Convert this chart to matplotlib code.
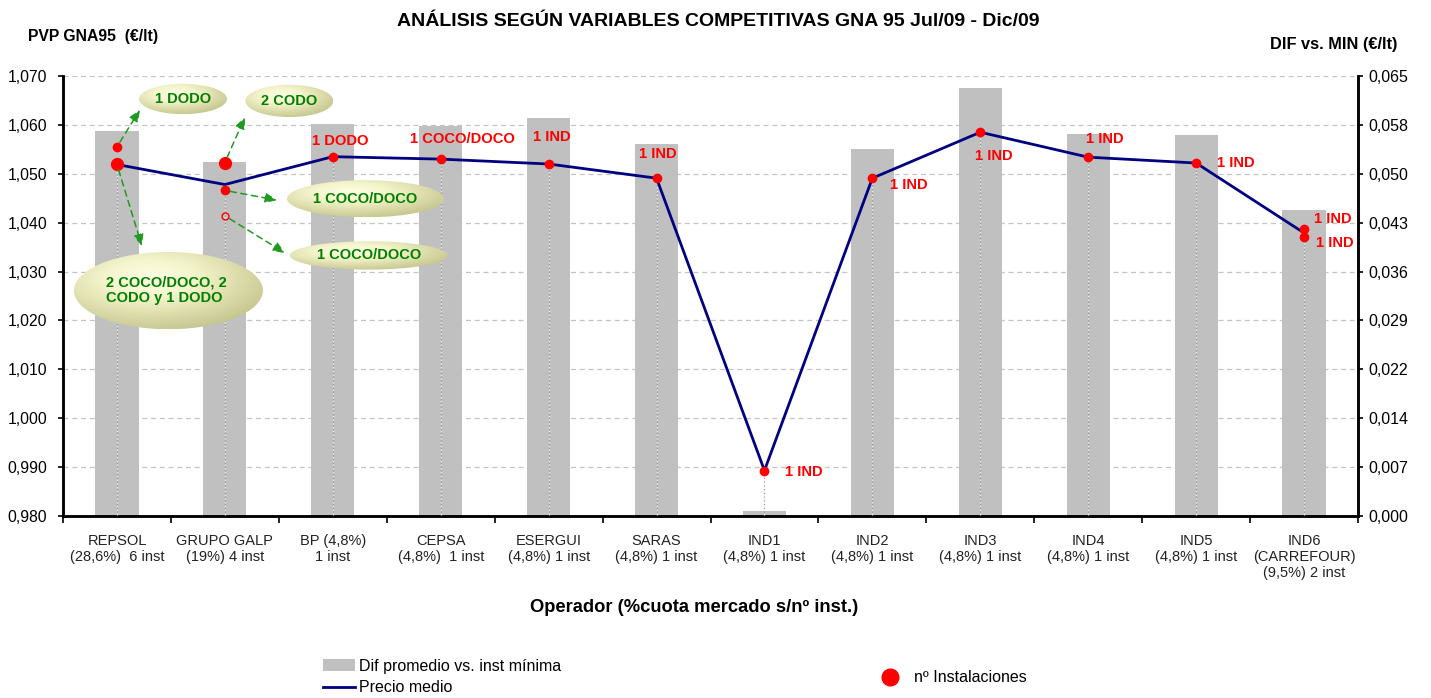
import matplotlib
matplotlib.use("Agg")
import matplotlib.pyplot as plt
import numpy as np
from matplotlib.patches import Ellipse, Patch
from matplotlib.lines import Line2D
from matplotlib.colors import LinearSegmentedColormap

plt.rcParams['font.family'] = ['Liberation Sans', 'DejaVu Sans']

# ---- data ----
operadores = ["REPSOL\n(28,6%)  6 inst", "GRUPO GALP\n(19%) 4 inst", "BP (4,8%)\n1 inst",
              "CEPSA\n(4,8%)  1 inst", "ESERGUI\n(4,8%) 1 inst", "SARAS\n(4,8%) 1 inst",
              "IND1\n(4,8%) 1 inst", "IND2\n(4,8%) 1 inst", "IND3\n(4,8%) 1 inst",
              "IND4\n(4,8%) 1 inst", "IND5\n(4,8%) 1 inst", "IND6\n(CARREFOUR)\n(9,5%) 2 inst"]
dif_min = [0.0567, 0.0521, 0.0577, 0.0574, 0.0586, 0.0548, 0.0008, 0.0541, 0.0631, 0.0562, 0.0561, 0.0450]
precio_medio = [1.0519, 1.0478, 1.0535, 1.0530, 1.0520, 1.0491, 0.9893, 1.0491, 1.0585, 1.0534, 1.0522, 1.0379]

# installations (red points)
inst_x = [0, 1, 2, 3, 4, 5, 6, 7, 8, 9, 10, 11, 11]
inst_y = [1.0555, 1.0466, 1.0535, 1.0530, 1.0520, 1.0491, 0.9893, 1.0491, 1.0585, 1.0534, 1.0522, 1.0387, 1.0370]
multi_x = [0, 1]
multi_y = [1.0519, 1.0523]
open_x = [1]
open_y = [1.0414]

left_ticks = [0.980, 0.990, 1.000, 1.010, 1.020, 1.030, 1.040, 1.050, 1.060, 1.070]
right_ticks = [0.0072 * k for k in range(10)]

fig = plt.figure(figsize=(14.31, 6.98), dpi=100)
ax2 = fig.add_axes([63/1431, 1-516/698, 1295/1431, 440/698])
ax = ax2.twinx()
# put the line axes on top of the bar axes
ax2.yaxis.tick_right()
ax2.yaxis.set_label_position('right')
ax.yaxis.tick_left()
ax.set_zorder(ax2.get_zorder() + 1)
ax.patch.set_visible(False)

x = np.arange(len(operadores))

# bars (right axis)
ax2.bar(x, dif_min, width=0.40, color='#C0C0C0', zorder=2)
ax2.set_ylim(0, 0.0648)
ax2.set_yticks(right_ticks)
ax2.set_yticklabels([f"{v:.3f}".replace('.', ',') for v in right_ticks], fontsize=11.5)
ax2.grid(axis='y', color='#C4C4C4', linestyle=(0, (4, 3)), linewidth=0.9, zorder=0)
ax2.set_axisbelow(True)
ax2.tick_params(axis='y', direction='out', length=3.5, width=1.2, pad=4)

# drop lines
ax.vlines(x, 0.98, precio_medio, colors='#9A9A9A', linestyles=(0, (1, 2)), linewidth=0.9, zorder=3)
ax.vlines(x, 0.98, precio_medio, colors='#EDEDED', linestyles=(1.5, (1, 2)), linewidth=0.9, zorder=3)

# line (left axis)
ax.plot(x, precio_medio, color='#000080', linewidth=2, zorder=4)
ax.plot(inst_x, inst_y, 'o', color='#FF0000', markersize=6, zorder=5, linestyle='none')
ax.plot(multi_x, multi_y, 'o', color='#FF0000', markersize=8.5, zorder=5, linestyle='none')
ax.plot(open_x, open_y, 'o', markerfacecolor='none', markeredgecolor='#FF0000',
        markersize=5, markeredgewidth=1, zorder=5, linestyle='none')

ax.set_ylim(0.98, 1.07)
ax.set_yticks(left_ticks)
ax.set_yticklabels([f"{v:.3f}".replace('.', ',') for v in left_ticks], fontsize=11.3)
ax.tick_params(axis='y', direction='out', length=3.5, width=1.2, pad=8)

# x axis
ax.set_xlim(-0.5, 11.5)
ax2.set_xlim(-0.5, 11.5)
ax2.set_xticks(np.arange(-0.5, 12, 1))
ax2.set_xticklabels([])
ax2.set_xticks(x, minor=True)
ax2.set_xticklabels(operadores, minor=True, fontsize=10.5, linespacing=1.2, color='#222222')
ax2.tick_params(axis='x', which='major', direction='out', length=5, width=1.2)
ax2.tick_params(axis='x', which='minor', length=0, pad=13)
ax.tick_params(axis='x', which='both', length=0, labelbottom=False)

for a in (ax, ax2):
    a.spines['top'].set_visible(False)
    for s in ('left', 'right', 'bottom'):
        a.spines[s].set_linewidth(1.8)
        a.spines[s].set_color('black')

# red labels
red = dict(color='#FF0000', fontsize=10.6, fontweight='bold', va='center', zorder=7)
ax.text(2.066, 1.0567, "1 DODO", ha='center', **red)
ax.text(3.197, 1.0571, "1 COCO/DOCO", ha='center', **red)
ax.text(4.03, 1.0575, "1 IND", ha='center', **red)
ax.text(5.013, 1.0540, "1 IND", ha='center', **red)
ax.text(6.19, 0.9891, "1 IND", ha='left', **red)
ax.text(7.163, 1.0477, "1 IND", ha='left', **red)
ax.text(8.124, 1.0537, "1 IND", ha='center', **red)
ax.text(9.152, 1.0571, "1 IND", ha='center', **red)
ax.text(10.19, 1.0522, "1 IND", ha='left', **red)
ax.text(11.09, 1.0407, "1 IND", ha='left', **red)
ax.text(11.11, 1.0358, "1 IND", ha='left', **red)

# gradient bubbles
cmap = LinearSegmentedColormap.from_list('bub', ['#FFFFE6', '#F4F4CC', '#DADAA8', '#BFBF88'])


def bubble(xc, yc, w, h, text, tx=None, ha='center'):
    ell = Ellipse((xc, yc), w, h, facecolor='none', edgecolor='none', zorder=8)
    ax.add_patch(ell)
    X, Y = np.meshgrid(np.linspace(-1, 1, 200), np.linspace(1, -1, 100))
    r = np.sqrt((X + 0.2) ** 2 + (Y - 0.3) ** 2)
    img = ax.imshow(r, extent=(xc - w/2, xc + w/2, yc - h/2, yc + h/2), cmap=cmap,
                    aspect='auto', origin='upper', vmin=0, vmax=1.5, zorder=8,
                    interpolation='bilinear')
    img.set_clip_path(ell)
    ax.text(xc if tx is None else tx, yc, text, ha=ha, va='center', color='#008000',
            fontsize=10.5, fontweight='bold', zorder=9, linespacing=1.15)


bubble(0.612, 1.0653, 0.815, 0.0062, "1 DODO")
bubble(1.598, 1.0649, 0.815, 0.0066, "2 CODO")
bubble(2.303, 1.0449, 1.455, 0.0076, "1 COCO/DOCO")
bubble(2.335, 1.0333, 1.464, 0.0058, "1 COCO/DOCO")
bubble(0.477, 1.0261, 1.751, 0.0158, "2 COCO/DOCO, 2\nCODO y 1 DODO", tx=-0.10, ha='left')

# green dashed arrows
arr = dict(arrowstyle='-|>,head_length=0.7,head_width=0.3', color='#1E9A1E',
           linestyle=(0, (4, 3)), linewidth=1.1, shrinkA=4, shrinkB=0)
ax.annotate("", xy=(0.213, 1.0631), xytext=(0, 1.0555), arrowprops=arr, zorder=6)
ax.annotate("", xy=(0.232, 1.0352), xytext=(0, 1.0519), arrowprops=arr, zorder=6)
ax.annotate("", xy=(1.186, 1.0616), xytext=(1.0, 1.0523), arrowprops=arr, zorder=6)
ax.annotate("", xy=(1.483, 1.0446), xytext=(1.0, 1.0466), arrowprops=arr, zorder=6)
ax.annotate("", xy=(1.557, 1.0338), xytext=(1.0, 1.0414), arrowprops=arr, zorder=6)

ax.set_xlim(-0.5, 11.5)
ax.set_ylim(0.98, 1.07)

# titles
fig.text(718/1431, 1-21/698, "ANÁLISIS SEGÚN VARIABLES COMPETITIVAS GNA 95 Jul/09 - Dic/09",
         ha='center', va='center', fontsize=14, fontweight='bold')
fig.text(28/1431, 1-37/698, "PVP GNA95  (€/lt)", ha='left', va='center', fontsize=11.3, fontweight='bold')
fig.text(1397/1431, 1-45/698, "DIF vs. MIN (€/lt)", ha='right', va='center', fontsize=11.8, fontweight='bold')
fig.text(694/1431, 1-607/698, "Operador (%cuota mercado s/nº inst.)", ha='center', va='center',
         fontsize=13.2, fontweight='bold')

# legends
h1 = Patch(facecolor='#C0C0C0', edgecolor='none')
h2 = Line2D([], [], color='#000080', linewidth=2)
fig.legend([h1, h2], ["Dif promedio vs. inst mínima", "Precio medio"],
           loc='center left', bbox_to_anchor=(323/1431, 1-677/698), frameon=False,
           fontsize=11.5, handlelength=2.0, handletextpad=0.25, labelspacing=0.42,
           borderaxespad=0, borderpad=0)
h3 = Line2D([], [], marker='o', color='#FF0000', linestyle='none', markersize=12)
fig.legend([h3], ["nº Instalaciones"], loc='center left', bbox_to_anchor=(874/1431, 1-678/698),
           frameon=False, fontsize=11.5, handletextpad=0.5, borderaxespad=0, borderpad=0)

fig.savefig("out.png", dpi=100)
